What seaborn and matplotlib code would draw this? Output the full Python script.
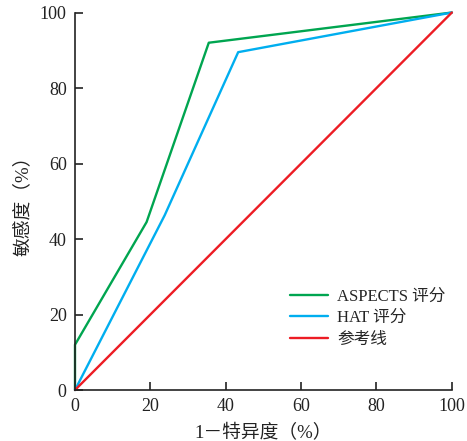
import matplotlib
matplotlib.use("Agg")
import matplotlib.pyplot as plt
import seaborn as sns
import pandas as pd

# Data
aspects_x = [0, 0, 19.0, 35.5, 100]
aspects_y = [0, 12.0, 44.5, 92.0, 100]
hat_x = [0, 23.8, 43.3, 100]
hat_y = [0, 46.3, 89.5, 100]
ref_x = [0, 100]
ref_y = [0, 100]
series_names = ["ASPECTS 评分", "HAT 评分", "参考线"]
xticks = [0, 20, 40, 60, 80, 100]
yticks = [0, 20, 40, 60, 80, 100]

sns.set_theme(style="ticks")
plt.rcParams['font.family'] = ['Liberation Serif', 'Noto Sans CJK SC', 'DejaVu Sans']

frames = []
for name, xs, ys in zip(series_names, [aspects_x, hat_x, ref_x], [aspects_y, hat_y, ref_y]):
    frames.append(pd.DataFrame({"x": xs, "y": ys, "s": name}))
df = pd.concat(frames, ignore_index=True)

palette = {series_names[0]: "#00a550", series_names[1]: "#00aeef", series_names[2]: "#ed1c24"}

fig = plt.figure(figsize=(4.67, 4.41), dpi=100)
ax = fig.add_axes([0.1606, 0.1156, 0.807, 0.856])
sns.lineplot(data=df, x="x", y="y", hue="s", palette=palette, sort=False,
             estimator=None, linewidth=1.7, ax=ax)

ax.set_xlim(0, 100)
ax.set_ylim(0, 100)
ax.set_xticks(xticks)
ax.set_yticks(yticks)
ax.tick_params(direction="in", length=6, width=1.2, labelsize=13, colors="#222222", pad=6)
for sp in ["top", "right"]:
    ax.spines[sp].set_visible(False)
for sp in ["left", "bottom"]:
    ax.spines[sp].set_linewidth(1.2)
    ax.spines[sp].set_color("#222222")
    ax.spines[sp].set_clip_on(False)
for ln in ax.get_lines():
    ln.set_clip_on(False)
ax.set_xlabel("1－特异度（%）", fontsize=13.5, color="#222222", labelpad=6)
ax.set_ylabel("敏感度（%）", fontsize=13.5, color="#222222", labelpad=6)

leg = ax.legend(title=None, frameon=False, fontsize=12, loc="upper left",
                bbox_to_anchor=(0.570, 0.269), borderpad=0, borderaxespad=0,
                handlelength=2.3, handletextpad=0.55, labelspacing=0.33)
for lh in leg.get_lines():
    lh.set_linewidth(1.7)

fig.savefig("out.png", dpi=100)
